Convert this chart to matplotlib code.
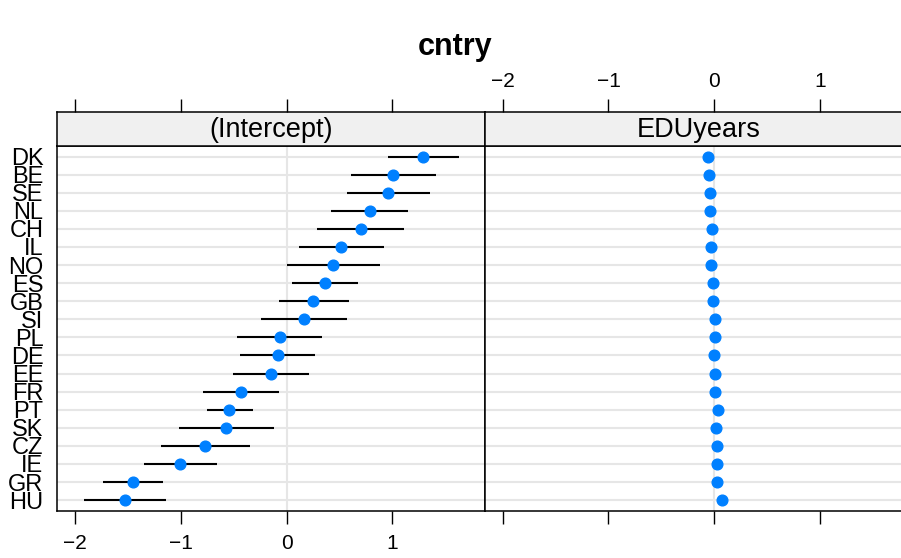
import matplotlib
matplotlib.use("Agg")
import matplotlib.pyplot as plt
from matplotlib import font_manager as fm
import numpy as np

countries = ["DK", "BE", "SE", "NL", "CH", "IL", "NO", "ES", "GB", "SI",
             "PL", "DE", "EE", "FR", "PT", "SK", "CZ", "IE", "GR", "HU"]
intercept = [1.29, 1.01, 0.96, 0.79, 0.70, 0.515, 0.44, 0.36, 0.255, 0.163,
             -0.063, -0.085, -0.15, -0.434, -0.54, -0.57, -0.774, -1.006, -1.45, -1.53]
intercept_lo = [0.96, 0.61, 0.57, 0.42, 0.29, 0.12, 0.006, 0.047, -0.075, -0.24,
                -0.466, -0.44, -0.51, -0.787, -0.75, -1.013, -1.19, -1.35, -1.74, -1.92]
intercept_hi = [1.63, 1.41, 1.36, 1.15, 1.11, 0.92, 0.88, 0.68, 0.59, 0.575,
                0.336, 0.27, 0.21, -0.075, -0.32, -0.123, -0.35, -0.66, -1.17, -1.14]
eduyears = [-0.057, -0.054, -0.041, -0.038, -0.022, -0.032, -0.028, -0.009, -0.016, 0.006,
            0.006, -0.006, 0.006, 0.003, 0.035, 0.013, 0.025, 0.022, 0.022, 0.073]
eduyears_err = [0.005] * 20
panel_titles = ["(Intercept)", "EDUyears"]
xticks = [-2, -1, 0, 1]
title = "cntry"

avail = {f.name for f in fm.fontManager.ttflist}
fam = "Liberation Sans Narrow" if "Liberation Sans Narrow" in avail else "Liberation Sans"
plt.rcParams["font.family"] = [fam, "DejaVu Sans"]

W, H = 901, 558
fig = plt.figure(figsize=(W / 100, H / 100), dpi=100)

def fx(px):
    return px / W

def fy(py):
    return 1 - py / H

left_px, mid_px = 57.3, 485.0
pw = mid_px - left_px
top_px, bot_px, strip_top_px = 145.7, 511.0, 112.3
xlim = (-2.168, 1.877)
n = len(countries)
ypos = np.arange(n, 0, -1)

dot_col = "#0080ff"
grid_col = "#e6e6e6"
strip_bg = "#f0f0f0"
tick_len = 9.4
tick_fs = 15

def fmt(t):
    return f"\u2212{abs(t)}" if t < 0 else str(t)

panels = [
    (intercept, np.array(intercept) - np.array(intercept_lo),
     np.array(intercept_hi) - np.array(intercept)),
    (eduyears, eduyears_err, eduyears_err),
]

for i, (vals, elo, ehi) in enumerate(panels):
    x0 = left_px + i * pw
    ax = fig.add_axes([fx(x0), fy(bot_px), pw / W, (bot_px - top_px) / H])
    ax.set_xlim(*xlim)
    ax.set_ylim(0.4, n + 0.6)
    for y in ypos:
        ax.axhline(y, color=grid_col, lw=1.5, zorder=0)
    ax.axvline(0, color=grid_col, lw=1.5, zorder=0)
    ax.errorbar(vals, ypos, xerr=[elo, ehi], fmt="none", ecolor="black",
                elinewidth=1.5, capsize=0, zorder=2)
    ax.plot(vals, ypos, "o", color=dot_col, ms=7.7, mec=dot_col, zorder=3)
    ax.set_xticks(xticks)
    ax.set_xticklabels([fmt(t) for t in xticks])
    ax.tick_params(axis="x", direction="out", length=tick_len, width=1.0,
                   labelsize=tick_fs, pad=7, labelbottom=(i == 0))
    ax.set_yticks(ypos)
    if i == 0:
        ax.set_yticklabels(countries, fontsize=17)
        ax.tick_params(axis="y", length=0, pad=10)
    else:
        ax.set_yticklabels([])
        ax.tick_params(axis="y", length=0)
    for s in ax.spines.values():
        s.set_linewidth(1.1)

    sax = fig.add_axes([fx(x0), fy(top_px), pw / W, (top_px - strip_top_px) / H])
    sax.set_facecolor(strip_bg)
    sax.set_xlim(*xlim)
    sax.set_ylim(0, 1)
    sax.set_yticks([])
    sax.xaxis.set_ticks_position("top")
    sax.set_xticks(xticks)
    sax.set_xticklabels([fmt(t) for t in xticks])
    sax.tick_params(axis="x", direction="out", length=tick_len, width=1.0,
                    labelsize=tick_fs, pad=6, labeltop=(i == 1), labelbottom=False,
                    bottom=False)
    sax.text(0.5, 0.47, panel_titles[i], transform=sax.transAxes,
             ha="center", va="center", fontsize=19.5)
    for s in sax.spines.values():
        s.set_linewidth(1.1)

fig.text(fx(455), fy(47), title, ha="center", va="center",
         fontsize=22, fontweight="bold")

fig.savefig("out.png", dpi=100)
